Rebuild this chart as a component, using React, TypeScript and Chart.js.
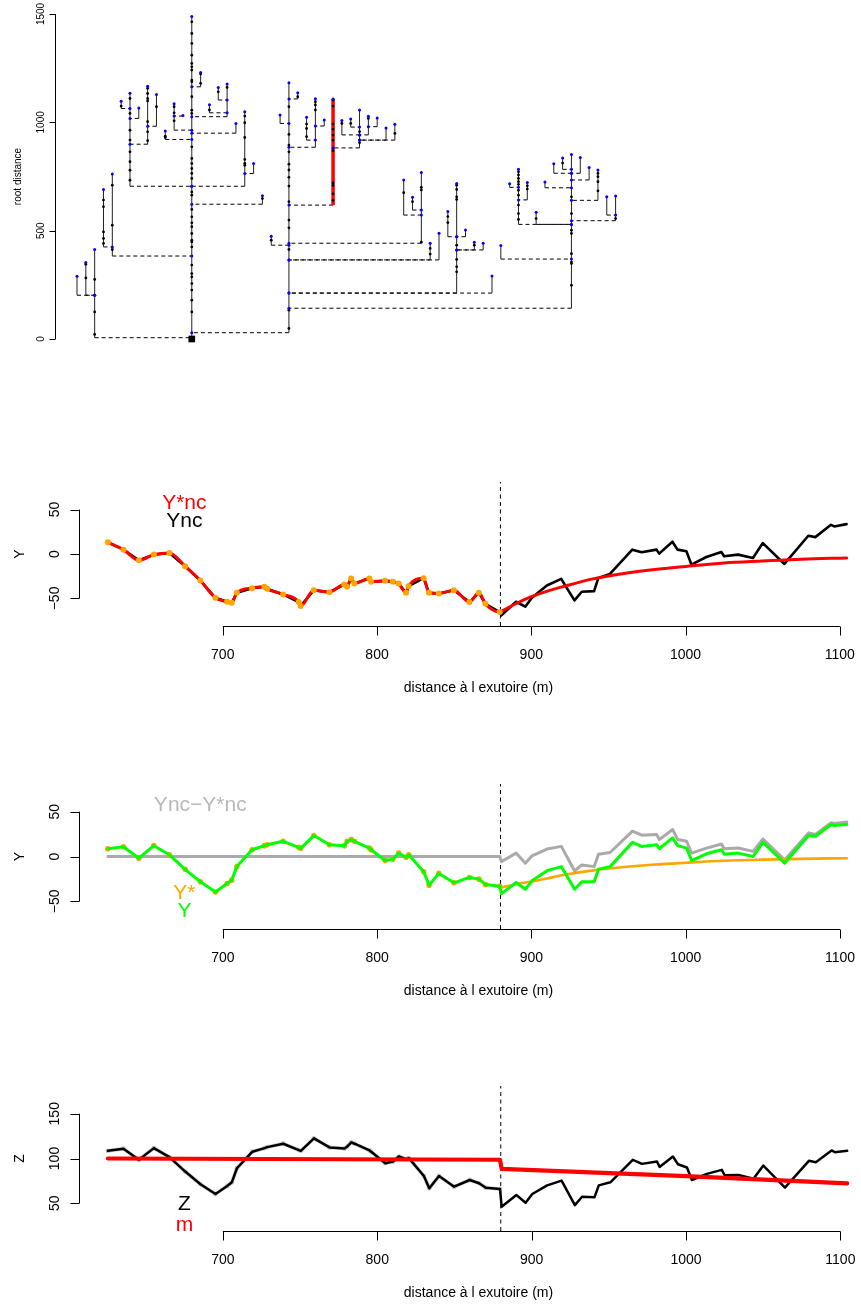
import React, { useEffect, useRef } from "react";
import { Chart, registerables } from "chart.js";

Chart.register(...registerables);

const FONT = '"Liberation Sans", Arial, Helvetica, sans-serif';

// ---------------- Panel 1 : river network (dendrogram) ----------------
// index = horizontal slot of the branch
const BRANCH_BASE = [202, 202, 6, 425, 383, 1064, 705, 1018, 899, 982,
  921, 964, 1029, 0, 1164, 1044, 1103, 1026, 950, 705,
  764, 622, 433, 995, 29, 1108, 918, 885, 983, 618,
  942, 978, 882, 942, 980, 918, 918, 572, 595, 442,
  365, 365, 472, 212, 472, 411, 411, 212, 369, 700,
  529, 642, 529, 698, 765, 783, 142, 765, 734, 640,
  572, 546];
const BRANCH_TIP = [290, 353, 413, 690, 761, 1097, 1134, 1066, 1166, 1129,
  960, 1086, 1032, 1489, 1230, 1081, 1161, 1177, 995, 1049,
  810, 661, 474, 1034, 1183, 1137, 1023, 1109, 1011, 1108,
  1008, 1015, 1057, 1028, 1020, 974, 991, 734, 654, 769,
  442, 488, 588, 718, 503, 446, 442, 291, 431, 717,
  783, 722, 585, 725, 809, 835, 852, 838, 792, 780,
  657, 660];
const BRANCH_PARENT = [2, 2, 13, 4, 13, 6, 13, 6, 6, 8,
  13, 13, 11, -1, 13, 17, 17, 13, 13, 13,
  19, 13, 24, 24, 13, 24, 27, 24, 27, 24,
  32, 32, 29, 32, 33, 32, 32, 39, 39, 24,
  24, 24, 43, 24, 43, 43, 43, 24, 56, 50,
  56, 50, 56, 56, 56, 56, 24, 56, 56, 56,
  61, 56];
const BRANCH_NODES: number[][] = [
  [], [345, 282], [275, 125, 21], [641, 610, 494, 464, 441], [710, 525, 413],
  [1075], [1110, 1041, 964, 918, 864, 818, 779, 733], [], [1157, 1133, 1110, 1099, 1003, 956, 915], [1072],
  [936, 930], [1072, 1044, 1007], [],
  [1464, 1410, 1364, 1310, 1272, 1256, 1241, 1195, 1187, 1118, 1056, 1041, 887, 833, 810, 787, 764, 741, 679, 664, 598, 564, 536, 518, 487, 456, 448, 425, 341, 302, 287, 256, 226, 179, 125],
  [1223, 1180], [1057], [1141], [1161], [], [1029, 998, 930, 829, 810, 802],
  [], [648], [456], [],
  [1072, 944, 895, 864, 807, 780, 746, 706, 634, 549, 513, 413, 133, 49],
  [1118], [992, 972, 934], [1095, 1080, 1057], [],
  [1103, 1075, 992, 968, 941, 918, 869, 720, 709, 670, 640],
  [995], [995], [957, 906], [1018], [], [], [949], [675], [634], [700, 688, 447],
  [418, 392], [], [565, 537], [710, 690, 656, 644, 433, 367, 333, 310], [], [433], [], [], [], [],
  [772, 757, 741, 726, 714, 687, 664, 618, 579, 552], [707, 692], [556], [], [], [812],
  [656, 579, 502, 487, 394, 355, 348, 248], [], [], [764, 749, 726, 684],
  [], [556],
];
const HIGHLIGHT_BRANCH = 29;
const ROOT_BRANCH = 13;
const TREE_Y_TICKS = [0, 500, 1000, 1500];

// ---------------- Panels 2-4 : profiles along the river ----------------
const BREAK_DIST = 880;
const X_TICKS = [700, 800, 900, 1000, 1100];
const RES_TICKS = [-50, 0, 50];
const Z_TICKS = [50, 100, 150];

// observed positions (upstream of the break)
const DIST_OBS = [625.5, 635.6, 645.6, 655.3, 665.4, 675.6, 685.5, 695.2, 702.8, 705.8,
  709.1, 719, 727, 728.7, 739.1, 749.2, 750.5, 759, 769.1, 778.8,
  780.6, 783.2, 785.3, 795, 796.1, 805.2, 810.2, 814, 818.8, 820.5,
  830.2, 833.7, 840, 849.8, 859.9, 866, 870.3, 879.5];
// predicted positions (downstream of the break)
const DIST_PRED = [880.6, 890.1, 896.1, 900.4, 910.1, 919.4, 928, 932.7, 940.7, 943.5,
  951, 965.5, 971.5, 981.2, 982.9, 991.5, 994.8, 1000.6, 1003.8, 1013.5,
  1023.2, 1025, 1034, 1043.7, 1050.1, 1064.1, 1079.6, 1084.1, 1094.3, 1096.4,
  1104.4];
const CURVE_X = [880, 890, 900, 910, 920, 940, 960, 980, 1000, 1025, 1050, 1075, 1104.4];

const YNC_OBS = [13.1, 4.9, -7.1, -0.7, 1.1, -13.8, -29.9, -49.3, -53.7, -54.9,
  -43.7, -38.4, -36.9, -39.2, -45.5, -54.1, -58.6, -40.7, -42.9, -34.3,
  -36.9, -27.6, -33.2, -27.6, -31.3, -30.2, -31.3, -33.2, -43.7, -36.2,
  -27.2, -43.7, -44.4, -40.7, -54.1, -43.7, -56, -65.3];
const YNC_PRED = [-69, -53.7, -59.3, -49.3, -35.4, -28, -52.2, -42.5, -41.8, -26.9,
  -22.4, 4.9, 1.9, 4.9, 0.4, 13.8, 4.9, 3, -11.9, -3.4,
  2.2, -2.6, -0.7, -4.5, 12.3, -11.2, 20.5, 19, 32.8, 31,
  33.6];
const YSTARNC_CURVE = [-65, -56, -48, -42, -37, -28, -22, -17.5, -14, -10, -7.8, -5.8, -4.5];

const Y_OBS = [8.7, 10.9, -1.9, 12.1, 1.9, -14.3, -28.3, -39.6, -30.2, -26.4,
  -11.3, 7.5, 12.1, 13.2, 17, 10.2, 9.1, 23.4, 13.2, 12.1,
  17, 18.9, 17, 9.4, 7.5, -4.5, -3, 3.8, -0.8, 1.9,
  -17, -32, -18.9, -29.4, -23.4, -25.3, -31.3, -33.2];
const Y_PRED = [-41.5, -29, -36.6, -27.2, -15.8, -11.3, -36.6, -28.3, -28.3, -14.3,
  -11.3, 15.8, 11.3, 13.2, 8.7, 20.8, 12.1, 9.4, -4.5, 3,
  7.5, 2.6, 3.8, 0, 15.8, -7.5, 23.4, 22.6, 35.8, 34.7,
  35.8];
const YSTAR_CURVE = [-34.7, -31, -28, -24.5, -21, -15.5, -11.8, -9, -7, -4.8, -3.5, -2.6, -1.9];
const DIFF_OBS = [0, 0, 0, 0, 0, 0, 0, 0, 0, 0, 0, 0, 0, 0, 0, 0, 0, 0, 0, 0,
  0, 0, 0, 0, 0, 0, 0, 0, 0, 0, 0, 0, 0, 0, 0, 0, 0, 0];
const DIFF_PRED = [-5.7, 3.8, -7.5, 0.8, 8.3, 11.3, -16.2, -9.4, -11.3, 2.6,
  4.5, 28.3, 23.8, 24.5, 18.9, 30.2, 18.9, 17, 3.8, 9.4,
  14, 8.7, 9.4, 5.7, 19.6, -3.8, 26.4, 24.5, 37.7, 37,
  38.5];

const Z_OBS = [108.6, 110.9, 98.5, 111.6, 101.5, 85.4, 71.2, 60.3, 69.3, 73.4,
  89.1, 107.5, 111.6, 112.7, 116.5, 109.4, 108.6, 122.5, 112.4, 111.2,
  113.5, 118, 116.5, 109, 107.5, 94.8, 96.6, 102.2, 99.3, 100.4,
  80.5, 66.7, 80.5, 68.5, 76, 72.3, 67.4, 65.9];
const Z_PRED = [46.1, 59.2, 50.6, 60.3, 70, 75.3, 47.9, 57.3, 56.6, 70,
  73.4, 98.5, 94, 96.6, 90.6, 102.2, 93.6, 89.9, 76, 82.8,
  87.3, 81.3, 81.6, 77.5, 92.1, 67.4, 97.4, 95.9, 109, 107.1,
  108.6];
const M_X = [625.5, 879.5, 880.6, 1000, 1104.4];
const M_VAL = [100, 98.6, 88.4, 80.2, 72.3];

// ---------------- helpers ----------------
const zip = (xs: number[], ys: (number | null)[]) => xs.map((x, i) => ({ x, y: ys[i] }));

const lineDs = (data: any[], color: string, width: number, order: number, extra: any = {}) => ({
  data, borderColor: color, backgroundColor: color, borderWidth: width, showLine: true,
  pointRadius: 0, pointHoverRadius: 0, fill: false, tension: 0,
  borderJoinStyle: "round", borderCapStyle: "round", order, ...extra,
});
const pointDs = (data: any[], color: string, radius: number, order: number, extra: any = {}) => ({
  data, showLine: false, pointRadius: radius, pointHoverRadius: radius,
  pointBackgroundColor: color, pointBorderColor: color, pointBorderWidth: 0,
  backgroundColor: color, borderColor: color, order, ...extra,
});

type Note = { text: string; x: number; y: number; color: string };
type AxesCfg = {
  yTicks: number[]; yTitle: string; font: number;
  yAxisGap: number; tickLen: number; yLabelBase: number; yTitleBase: number;
  xTicks?: number[]; xTitle?: string; xLabelBase?: number; xTitleBase?: number; xTitleCenter?: number;
  notes?: Note[]; noteFont?: number;
};

const fmt = (v: number) => String(v).replace("-", "\u2212");

function rAxes(cfg: AxesCfg) {
  return {
    id: "rAxes",
    afterDraw(chart: any) {
      const { ctx, chartArea, scales } = chart;
      const xs = scales.x, ys = scales.y;
      ctx.save();
      ctx.strokeStyle = "#000";
      ctx.fillStyle = "#000";
      ctx.lineWidth = 1;
      ctx.setLineDash([]);
      const ax = Math.round(chartArea.left - cfg.yAxisGap) + 0.5;
      const yt = cfg.yTicks;
      ctx.beginPath();
      ctx.moveTo(ax, ys.getPixelForValue(yt[0]));
      ctx.lineTo(ax, ys.getPixelForValue(yt[yt.length - 1]));
      yt.forEach((v) => {
        const p = Math.round(ys.getPixelForValue(v)) + 0.5;
        ctx.moveTo(ax, p);
        ctx.lineTo(ax - cfg.tickLen, p);
      });
      ctx.stroke();
      ctx.font = `${cfg.font}px ${FONT}`;
      ctx.textAlign = "center";
      ctx.textBaseline = "alphabetic";
      const rot = (t: string, x: number, y: number) => {
        ctx.save();
        ctx.translate(x, y);
        ctx.rotate(-Math.PI / 2);
        ctx.fillText(t, 0, 0);
        ctx.restore();
      };
      yt.forEach((v) => rot(fmt(v), ax - cfg.yLabelBase, ys.getPixelForValue(v)));
      rot(cfg.yTitle, ax - cfg.yTitleBase, (chartArea.top + chartArea.bottom) / 2);

      if (cfg.xTicks) {
        const by = Math.round(chartArea.bottom) + 0.5;
        const xt = cfg.xTicks;
        ctx.beginPath();
        ctx.moveTo(xs.getPixelForValue(xt[0]), by);
        ctx.lineTo(xs.getPixelForValue(xt[xt.length - 1]), by);
        xt.forEach((v) => {
          const p = Math.round(xs.getPixelForValue(v)) + 0.5;
          ctx.moveTo(p, by);
          ctx.lineTo(p, by + cfg.tickLen);
        });
        ctx.stroke();
        xt.forEach((v) => ctx.fillText(fmt(v), xs.getPixelForValue(v), by + (cfg.xLabelBase || 0)));
        if (cfg.xTitle) ctx.fillText(cfg.xTitle, cfg.xTitleCenter || 0, by + (cfg.xTitleBase || 0));
      }
      if (cfg.notes) {
        ctx.font = `${cfg.noteFont}px ${FONT}`;
        cfg.notes.forEach((n) => {
          ctx.fillStyle = n.color;
          ctx.fillText(n.text, xs.getPixelForValue(n.x), ys.getPixelForValue(n.y));
        });
      }
      ctx.restore();
    },
  };
}

const baseOptions = (padding: any, xr: number[], yr: number[]) => ({
  responsive: false,
  animation: false as const,
  events: [] as any[],
  devicePixelRatio: 1,
  layout: { padding },
  plugins: { legend: { display: false }, tooltip: { enabled: false }, title: { display: false } },
  scales: {
    x: { type: "linear" as const, display: false, min: xr[0], max: xr[1] },
    y: { type: "linear" as const, display: false, min: yr[0], max: yr[1] },
  },
});

const X_RANGE = [606.8, 1111.8];
const RES_RANGE = [-81, 81];
const Z_RANGE = [19, 181];
const X_TITLE = "distance \u00e0 l exutoire (m)";
const NOTE_X = 675.1;

const profileAxes = (yTicks: number[], yTitle: string, notes: Note[]): AxesCfg => ({
  yTicks, yTitle, font: 14, yAxisGap: 0, tickLen: 9, yLabelBase: 20.5, yTitleBase: 55.5,
  xTicks: X_TICKS, xTitle: X_TITLE, xLabelBase: 32, xTitleBase: 65.5, xTitleCenter: 478.5,
  notes, noteFont: 21,
});

const breakLine = (yr: number[], order: number) =>
  lineDs([{ x: BREAK_DIST, y: yr[0] }, { x: BREAK_DIST, y: yr[1] }], "#000", 1, order,
    { borderDash: [4, 3.5], borderCapStyle: "butt" });

function buildTree(): any {
  const vert: any[] = [], conn: any[] = [], hl: any[] = [], black: any[] = [], blue: any[] = [];
  BRANCH_BASE.forEach((base, i) => {
    const seg = [{ x: i, y: base }, { x: i, y: BRANCH_TIP[i] }, { x: i, y: null }];
    if (i === HIGHLIGHT_BRANCH) hl.push(...seg); else vert.push(...seg);
    const p = BRANCH_PARENT[i];
    if (p >= 0) {
      conn.push({ x: i, y: base }, { x: p, y: base }, { x: p, y: null });
      blue.push({ x: p, y: base });
    }
    blue.push({ x: i, y: BRANCH_TIP[i] });
    BRANCH_NODES[i].forEach((v) => black.push({ x: i, y: v }));
  });
  const noClip = { clip: false, spanGaps: false };
  return {
    type: "scatter",
    data: {
      datasets: [
        pointDs([{ x: ROOT_BRANCH, y: 0 }], "#000", 4.7, 0, { pointStyle: "rect", ...noClip }),
        pointDs(blue, "#0000FF", 1.5, 1, noClip),
        pointDs(black, "#000", 1.4, 2, noClip),
        lineDs(hl, "#FF0000", 3.5, 3, { ...noClip, borderCapStyle: "butt" }),
        lineDs(vert, "#222", 1, 4, { ...noClip, borderCapStyle: "butt" }),
        lineDs(conn, "#000", 1, 5, { ...noClip, borderDash: [4, 3], borderCapStyle: "butt" }),
      ],
    },
    options: baseOptions({ left: 77, right: 245.4, top: 14, bottom: 21 }, [0, 61], [0, 1500]),
    plugins: [rAxes({
      yTicks: TREE_Y_TICKS, yTitle: "root distance", font: 10, yAxisGap: 22, tickLen: 6,
      yLabelBase: 12, yTitleBase: 35,
    })],
  };
}

function buildYnc(): any {
  return {
    type: "scatter",
    data: {
      datasets: [
        pointDs(zip(DIST_OBS, YNC_OBS), "#FFA500", 3, 0),
        lineDs([...zip(DIST_OBS, YNC_OBS), ...zip(CURVE_X, YSTARNC_CURVE)], "#FF0000", 3, 1,
          { cubicInterpolationMode: "monotone" }),
        lineDs([...zip(DIST_OBS, YNC_OBS), ...zip(DIST_PRED, YNC_PRED)], "#000", 2.6, 2),
        breakLine(RES_RANGE, 3),
      ],
    },
    options: baseOptions({ left: 79, right: 0, top: 12, bottom: 74 }, X_RANGE, RES_RANGE),
    plugins: [rAxes(profileAxes(RES_TICKS, "Y", [
      { text: "Y*nc", x: NOTE_X, y: 50.3, color: "#FF0000" },
      { text: "Ync", x: NOTE_X, y: 30.7, color: "#000" },
    ]))],
  };
}

function buildY(): any {
  return {
    type: "scatter",
    data: {
      datasets: [
        lineDs([...zip(DIST_OBS, Y_OBS), ...zip(DIST_PRED, Y_PRED)], "#00FF00", 3, 0),
        pointDs(zip(DIST_OBS, Y_OBS), "#FFA500", 2.8, 1),
        lineDs(zip(CURVE_X, YSTAR_CURVE), "#FFA500", 2.6, 2, { cubicInterpolationMode: "monotone" }),
        lineDs([...zip(DIST_OBS, DIFF_OBS), ...zip(DIST_PRED, DIFF_PRED)], "#AAAAAA", 3, 3),
        breakLine(RES_RANGE, 4),
      ],
    },
    options: baseOptions({ left: 79, right: 0, top: 14, bottom: 71 }, X_RANGE, RES_RANGE),
    plugins: [rAxes(profileAxes(RES_TICKS, "Y", [
      { text: "Ync\u2212Y*nc", x: 685.4, y: 51.2, color: "#B8B8B8" },
      { text: "Y*", x: NOTE_X, y: -47.8, color: "#FFA500" },
      { text: "Y", x: NOTE_X, y: -67.3, color: "#00FF00" },
    ]))],
  };
}

function buildZ(): any {
  return {
    type: "scatter",
    data: {
      datasets: [
        lineDs(zip(M_X, M_VAL), "#FF0000", 4.2, 0),
        lineDs([...zip(DIST_OBS, Z_OBS), ...zip(DIST_PRED, Z_PRED)], "#000", 2.5, 1),
        lineDs(zip(DIST_OBS, Z_OBS), "#D4D4D4", 3.8, 2, { pointRadius: 2.4, pointBackgroundColor: "#C4C4C4", pointBorderWidth: 0 }),
        breakLine(Z_RANGE, 3),
      ],
    },
    options: baseOptions({ left: 79, right: 0, top: 16, bottom: 73 }, X_RANGE, Z_RANGE),
    plugins: [rAxes(profileAxes(Z_TICKS, "Z", [
      { text: "Z", x: NOTE_X, y: 42.4, color: "#000" },
      { text: "m", x: NOTE_X, y: 19.3, color: "#FF0000" },
    ]))],
  };
}

function ChartCanvas({ top, height, build }: { top: number; height: number; build: () => any }) {
  const ref = useRef<HTMLCanvasElement>(null);
  useEffect(() => {
    const chart = new Chart(ref.current as HTMLCanvasElement, build());
    return () => chart.destroy();
  }, []);
  return (
    <canvas
      ref={ref}
      width={861}
      height={height}
      style={{ position: "absolute", left: 0, top, width: 861, height, display: "block" }}
    />
  );
}

export default function App() {
  return (
    <div style={{ position: "absolute", left: 0, top: 0, width: 861, height: 1304, background: "#fff", overflow: "hidden" }}>
      <ChartCanvas top={0} height={360} build={buildTree} />
      <ChartCanvas top={470} height={230} build={buildYnc} />
      <ChartCanvas top={770} height={230} build={buildY} />
      <ChartCanvas top={1070} height={234} build={buildZ} />
    </div>
  );
}
